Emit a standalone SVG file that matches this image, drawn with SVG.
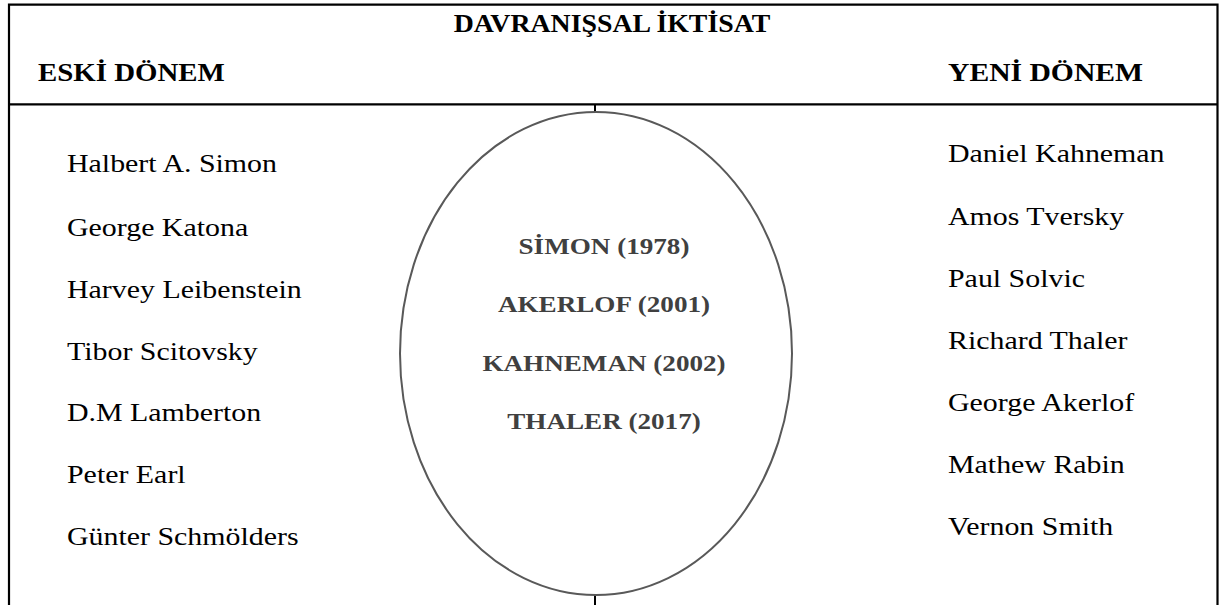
<svg xmlns="http://www.w3.org/2000/svg" width="1219" height="605" viewBox="0 0 1219 605">
<style>
.frame{stroke:#000;stroke-width:2.2;fill:none}
.head{font-family:"Liberation Serif","Times New Roman",serif;font-weight:bold;font-size:26px;fill:#000}
.name{font-family:"Liberation Serif","Times New Roman",serif;font-size:26px;fill:#000}
.prize{font-family:"Liberation Serif","Times New Roman",serif;font-weight:bold;font-size:24px;fill:#404040;text-anchor:middle}
</style>
<rect width="1219" height="605" fill="#fff"/>
<g id="frame">
<polyline class="frame" points="9,605 9,4.7 1217.5,4.7 1217.5,605"/>
<line class="frame" x1="9" y1="104.3" x2="1217.5" y2="104.3"/>
</g>
<g id="header">
<text class="head" transform="translate(612,32) scale(1.07,1)" text-anchor="middle">DAVRANIŞSAL İKTİSAT</text>
<text class="head" transform="translate(38,81) scale(1.11,1)">ESKİ DÖNEM</text>
<text class="head" transform="translate(948,81) scale(1.14,1)">YENİ DÖNEM</text>
</g>
<g id="connectors">
<line x1="595" y1="104" x2="595" y2="112" stroke="#000" stroke-width="2"/>
<line x1="595" y1="595" x2="595" y2="605" stroke="#000" stroke-width="2"/>
</g>
<g id="ellipse">
<ellipse cx="596" cy="353.5" rx="196" ry="241.5" fill="none" stroke="#595959" stroke-width="2"/>
<text class="prize" transform="translate(604,254) scale(1.13,1)">SİMON (1978)</text>
<text class="prize" transform="translate(604,312) scale(1.13,1)">AKERLOF (2001)</text>
<text class="prize" transform="translate(604,371) scale(1.13,1)">KAHNEMAN (2002)</text>
<text class="prize" transform="translate(604,429) scale(1.13,1)">THALER (2017)</text>
</g>
<g id="old">
<text class="name" transform="translate(67,172) scale(1.15,1)">Halbert A. Simon</text>
<text class="name" transform="translate(67,236) scale(1.15,1)">George Katona</text>
<text class="name" transform="translate(67,298) scale(1.15,1)">Harvey Leibenstein</text>
<text class="name" transform="translate(67,360) scale(1.15,1)">Tibor Scitovsky</text>
<text class="name" transform="translate(67,421) scale(1.15,1)">D.M Lamberton</text>
<text class="name" transform="translate(67,483) scale(1.15,1)">Peter Earl</text>
<text class="name" transform="translate(67,545) scale(1.15,1)">Günter Schmölders</text>
</g>
<g id="new">
<text class="name" transform="translate(948,162) scale(1.15,1)">Daniel Kahneman</text>
<text class="name" transform="translate(948,225) scale(1.15,1)">Amos Tversky</text>
<text class="name" transform="translate(948,287) scale(1.15,1)">Paul Solvic</text>
<text class="name" transform="translate(948,349) scale(1.15,1)">Richard Thaler</text>
<text class="name" transform="translate(948,411) scale(1.15,1)">George Akerlof</text>
<text class="name" transform="translate(948,473) scale(1.15,1)">Mathew Rabin</text>
<text class="name" transform="translate(948,535) scale(1.15,1)">Vernon Smith</text>
</g>
</svg>
